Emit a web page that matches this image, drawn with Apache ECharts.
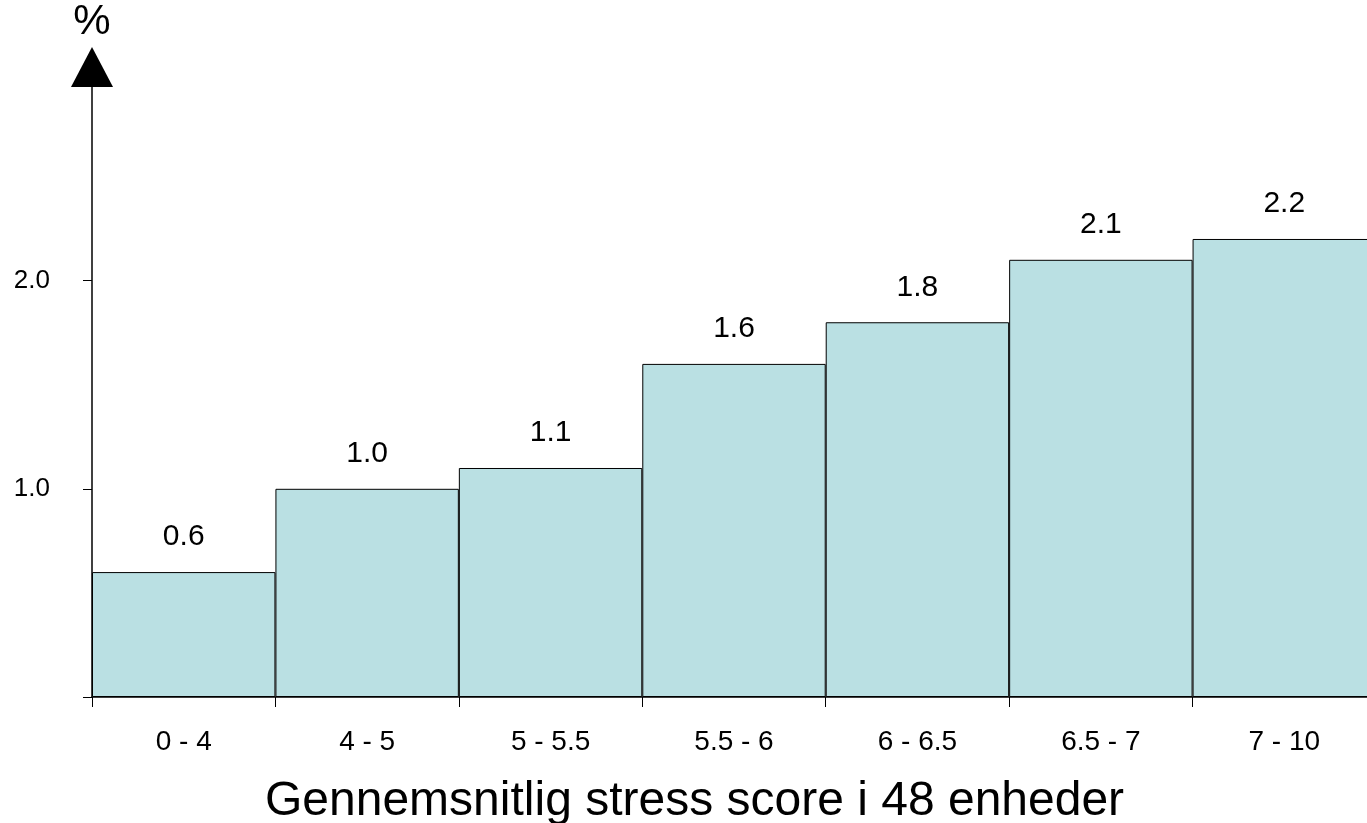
<!DOCTYPE html>
<html>
<head>
<meta charset="utf-8">
<script src="https://cdn.jsdelivr.net/npm/echarts@6/dist/echarts.min.js"></script>
<style>
  html, body { margin: 0; padding: 0; background: #fff; }
  #chart { width: 1367px; height: 823px; }
</style>
</head>
<body>
<div id="chart"></div>
<script>
// stress score groups and share (%)
const categories = ['0 - 4', '4 - 5', '5 - 5.5', '5.5 - 6', '6 - 6.5', '6.5 - 7', '7 - 10']
const values = [0.6, 1.0, 1.1, 1.6, 1.8, 2.1, 2.2]
const yTickValues = [0, 1, 2]
const yLabelValues = [1, 2]
const xTitle = 'Gennemsnitlig stress score i 48 enheder'

const font = '"Liberation Sans", Arial, sans-serif'

const chart = echarts.init(document.getElementById('chart'))
chart.setOption({
  animation: false,
  title: {
    text: xTitle,
    left: 265,
    top: 778,
    padding: 0,
    textStyle: { fontFamily: font, fontSize: 48, fontWeight: 'normal', color: '#000' }
  },
  // last bar runs past the right edge of the page, as in the original
  grid: { left: 92, width: 1284, top: 87, bottom: 126, outerBoundsMode: 'none' },
  xAxis: {
    type: 'category',
    data: categories,
    boundaryGap: true,
    axisLine: { lineStyle: { color: '#000', width: 1.5 } },
    axisTick: { show: true, length: 10, lineStyle: { color: '#000' } },
    axisLabel: { margin: 31, fontFamily: font, fontSize: 28, color: '#000' },
    splitLine: { show: false }
  },
  yAxis: {
    type: 'value',
    min: 0,
    max: 2.93,
    name: '%',
    nameLocation: 'end',
    nameGap: 44,
    nameTextStyle: { fontFamily: font, fontSize: 42, color: '#000' },
    axisLine: {
      show: true,
      symbol: ['none', 'triangle'],
      symbolSize: [42, 40],
      symbolOffset: [0, 20],
      lineStyle: { color: '#000', width: 1.5 }
    },
    axisTick: { show: true, length: 9, customValues: yTickValues, lineStyle: { color: '#000' } },
    axisLabel: {
      margin: 42,
      customValues: yLabelValues,
      fontFamily: font,
      fontSize: 26,
      color: '#000',
      formatter: v => v.toFixed(1)
    },
    splitLine: { show: false }
  },
  series: [{
    type: 'bar',
    data: values,
    barCategoryGap: 0,
    itemStyle: { color: '#bae0e3', borderColor: '#000', borderWidth: 1 },
    label: {
      show: true,
      position: 'top',
      distance: 20,
      fontFamily: font,
      fontSize: 30,
      color: '#000',
      formatter: p => p.value.toFixed(1)
    }
  }]
})
</script>
</body>
</html>
